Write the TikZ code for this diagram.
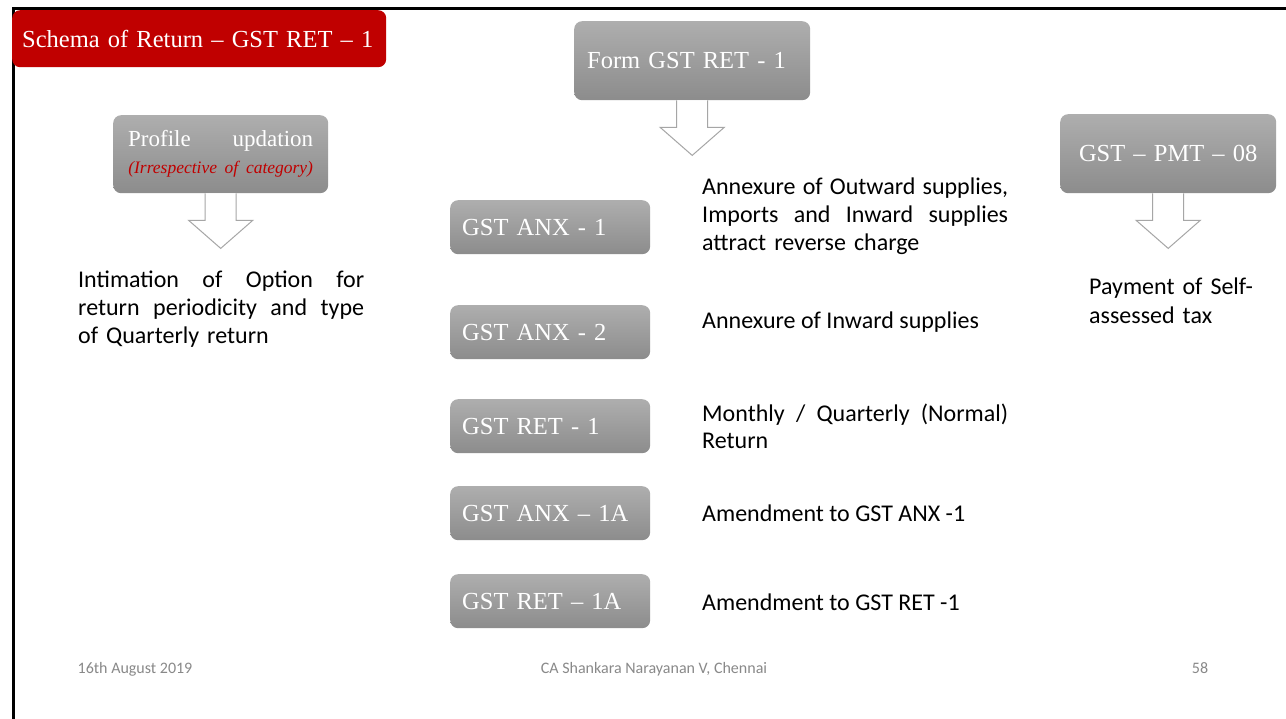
\documentclass[tikz,border=0pt]{standalone}
\usepackage{fontspec}
\setmainfont{Liberation Serif}
\newfontfamily\bodyfont{Carlito}
\usetikzlibrary{calc}
\definecolor{slidered}{HTML}{C00000}
\definecolor{boxtop}{HTML}{AEAEAE}
\definecolor{boxbottom}{HTML}{8C8C8C}
\definecolor{arrowline}{HTML}{A6A6A6}
\definecolor{footgray}{HTML}{898989}

% hollow block arrow hanging below the bottom edge of a named node
\newcommand\blkarrow[1]{%
  \draw[blockarrow]
    ($(#1.south)+(-15.5,0)$) -- ++(0,27) -- ++(-16.5,0)
    -- ($(#1.south)+(0,55)$)
    -- ($(#1.south)+(32,27)$) -- ++(-16.5,0) -- ++(0,-27);}

% a line of text spread to a fixed width (justified)
\newcommand\justline[2]{\makebox[#1][s]{\spaceskip=0pt\xspaceskip=0pt\relax #2}}

\tikzset{
  gbox/.style={rounded corners=8pt, top color=boxtop, bottom color=boxbottom,
    text=white, inner ysep=0pt, anchor=north west,
    font=\fontsize{24.5}{28}\selectfont},
  itembox/.style={gbox, minimum width=200pt, minimum height=54pt,
    inner xsep=12pt, text width=176pt, align=left},
  titlebox/.style={rounded corners=8pt, fill=slidered, text=white,
    anchor=north west, inner ysep=0pt, inner xsep=10pt,
    minimum width=374pt, minimum height=57pt, text width=354pt, align=left,
    font=\fontsize{24.5}{28}\selectfont},
  desc/.style={anchor=base west, inner sep=0pt, align=left,
    font=\bodyfont\fontsize{24}{28}\selectfont},
  foot/.style={anchor=base, inner sep=0pt, text=footgray,
    font=\bodyfont\fontsize{16}{19}\selectfont},
  blockarrow/.style={draw=arrowline, fill=white, line width=1pt, line join=miter},
  frame/.style={line width=3pt, black}
}

\begin{document}
\begin{tikzpicture}[x=1pt, y=-1pt]
\useasboundingbox (0,0) rectangle (1286,719);
\fill[white] (0,0) rectangle (1286,719);

% slide frame
\draw[frame] (1286,8.5) -- (13,8.5) -- (13,719);

% heading tab
\node[titlebox] (title) at (12,10) {Schema of Return – GST RET – 1};

% top-level boxes
\node[gbox, minimum width=236pt, minimum height=79pt, inner xsep=13pt,
      text width=210pt, align=left] (form) at (574,21) {Form GST RET - 1};
\node[gbox, minimum width=215pt, minimum height=78pt, inner xsep=15pt,
      text width=185pt, align=center, font=\fontsize{23}{27}\selectfont]
      (profile) at (113,115)
      {\makebox[185pt][s]{Profile\hfill updation}\\
       \makebox[185pt]{\color{slidered}\itshape\fontsize{17.5}{18}\selectfont (Irrespective of category)}};
\node[gbox, minimum width=216pt, minimum height=79pt, inner xsep=10pt,
      text width=196pt, align=center] (pmt) at (1060,114) {GST – PMT – 08};

% block arrows
\blkarrow{form}
\blkarrow{profile}
\blkarrow{pmt}

% left column text
\node[desc, text width=286pt] (option) at (78,288)
  {\justline{286pt}{Intimation of Option for}\\
   \justline{286pt}{return periodicity and type}\\
   of Quarterly return};

% right column text
\node[desc, text width=200pt] (payment) at (1089,295)
  {Payment of Self-\\[1pt]assessed tax};

% list of forms
\node[itembox] (anx1)  at (450,200) {GST ANX - 1};
\node[itembox] (anx2)  at (450,305) {GST ANX - 2};
\node[itembox] (ret1)  at (450,399) {GST RET - 1};
\node[itembox] (anx1a) at (450,486) {GST ANX – 1A};
\node[itembox] (ret1a) at (450,574) {GST RET – 1A};

% descriptions of the forms
\node[desc, text width=306pt] (danx1) at (702,195)
  {\justline{306pt}{Annexure of Outward supplies,}\\
   \justline{306pt}{Imports and Inward supplies}\\
   attract reverse charge};
\node[desc] (danx2) at (702,329) {Annexure of Inward supplies};
\node[desc, text width=306pt] (dret1) at (702,421)
  {\justline{306pt}{Monthly / Quarterly (Normal)}\\
   Return};
\node[desc] (danx1a) at (702,521) {Amendment to GST ANX -1};
\node[desc] (dret1a) at (702,610) {Amendment to GST RET -1};

% footer
\node[foot] (date)   at (135,673) {16th August 2019};
\node[foot] (author) at (654,673) {CA Shankara Narayanan V, Chennai};
\node[foot] (page)   at (1200,673) {58};
\end{tikzpicture}
\end{document}
